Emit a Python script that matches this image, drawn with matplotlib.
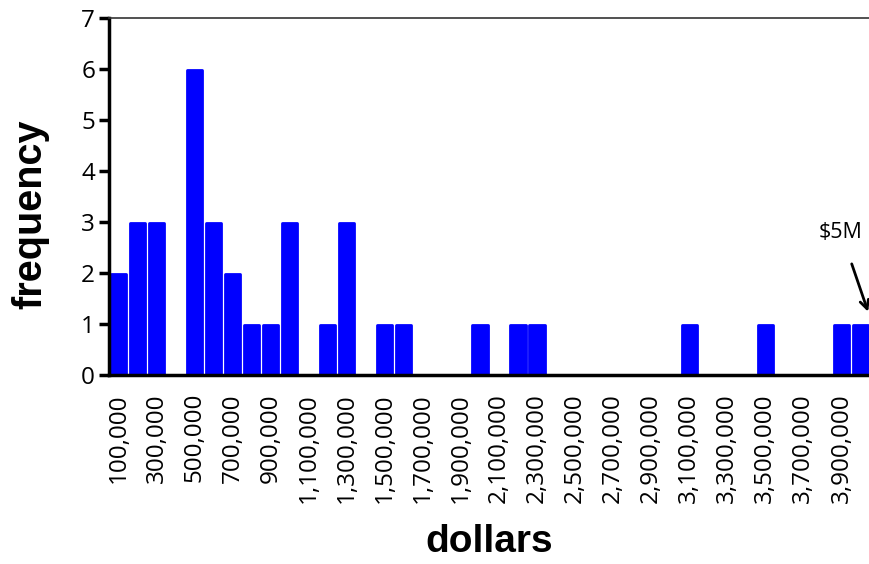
import matplotlib.pyplot as plt
import numpy as np

# bins of 100,000 dollars, 100,000 .. 4,000,000
bins = [100000 * k for k in range(1, 41)]
counts = [2, 3, 3, 0, 6, 3, 2, 1, 1, 3,
          0, 1, 3, 0, 1, 1, 0, 0, 0, 1,
          0, 1, 1, 0, 0, 0, 0, 0, 0, 0,
          1, 0, 0, 0, 1, 0, 0, 0, 1, 1]
tick_labels = ["{:,}".format(b) for b in bins[::2]]

plt.rcParams['font.family'] = ['Open Sans', 'DejaVu Sans']
title_font = ['Liberation Sans', 'DejaVu Sans']

fig = plt.figure(figsize=(8.7, 5.64), dpi=100)
ax = fig.add_axes([109/870, (564-375)/564, 761/870, 357/564])

x = np.arange(len(bins))
for xi, c in zip(x, counts):
    if c > 0:
        ax.bar(xi, c + 0.04, bottom=-0.06, width=0.8, color='#0000ff',
               edgecolor='#0000ff', linewidth=2, joinstyle='round', zorder=1)

ax.set_xlim(-0.5, 39.5)
ax.set_ylim(0, 7)
ax.set_yticks(range(8))
ax.set_xticks(x[::2])
ax.set_xticklabels(tick_labels, rotation=90, fontsize=17.5)
ax.tick_params(axis='y', labelsize=17.5, length=7, width=2.5, direction='out', pad=3)
ax.tick_params(axis='x', length=0, pad=13)

ax.spines['left'].set_linewidth(2.5)
ax.spines['bottom'].set_linewidth(2.5)
ax.spines['bottom'].set_zorder(3)
ax.spines['top'].set_linewidth(1.2)
ax.spines['top'].set_color('#333333')
ax.spines['right'].set_visible(False)

ax.set_ylabel('frequency', fontsize=28.5, fontweight='bold', va='center',
              family=title_font)
ax.yaxis.set_label_coords(-0.103, 0.45)
ax.set_xlabel('dollars', fontsize=28, fontweight='bold', labelpad=15,
              family=title_font)

ax.annotate('$5M', xy=(39.4, 1.24), xytext=(37.97, 2.8), fontsize=15.5,
            ha='center', va='center',
            arrowprops=dict(arrowstyle='->', lw=2, color='black',
                            shrinkA=14, shrinkB=0))

fig.savefig('out.png', dpi=100)
